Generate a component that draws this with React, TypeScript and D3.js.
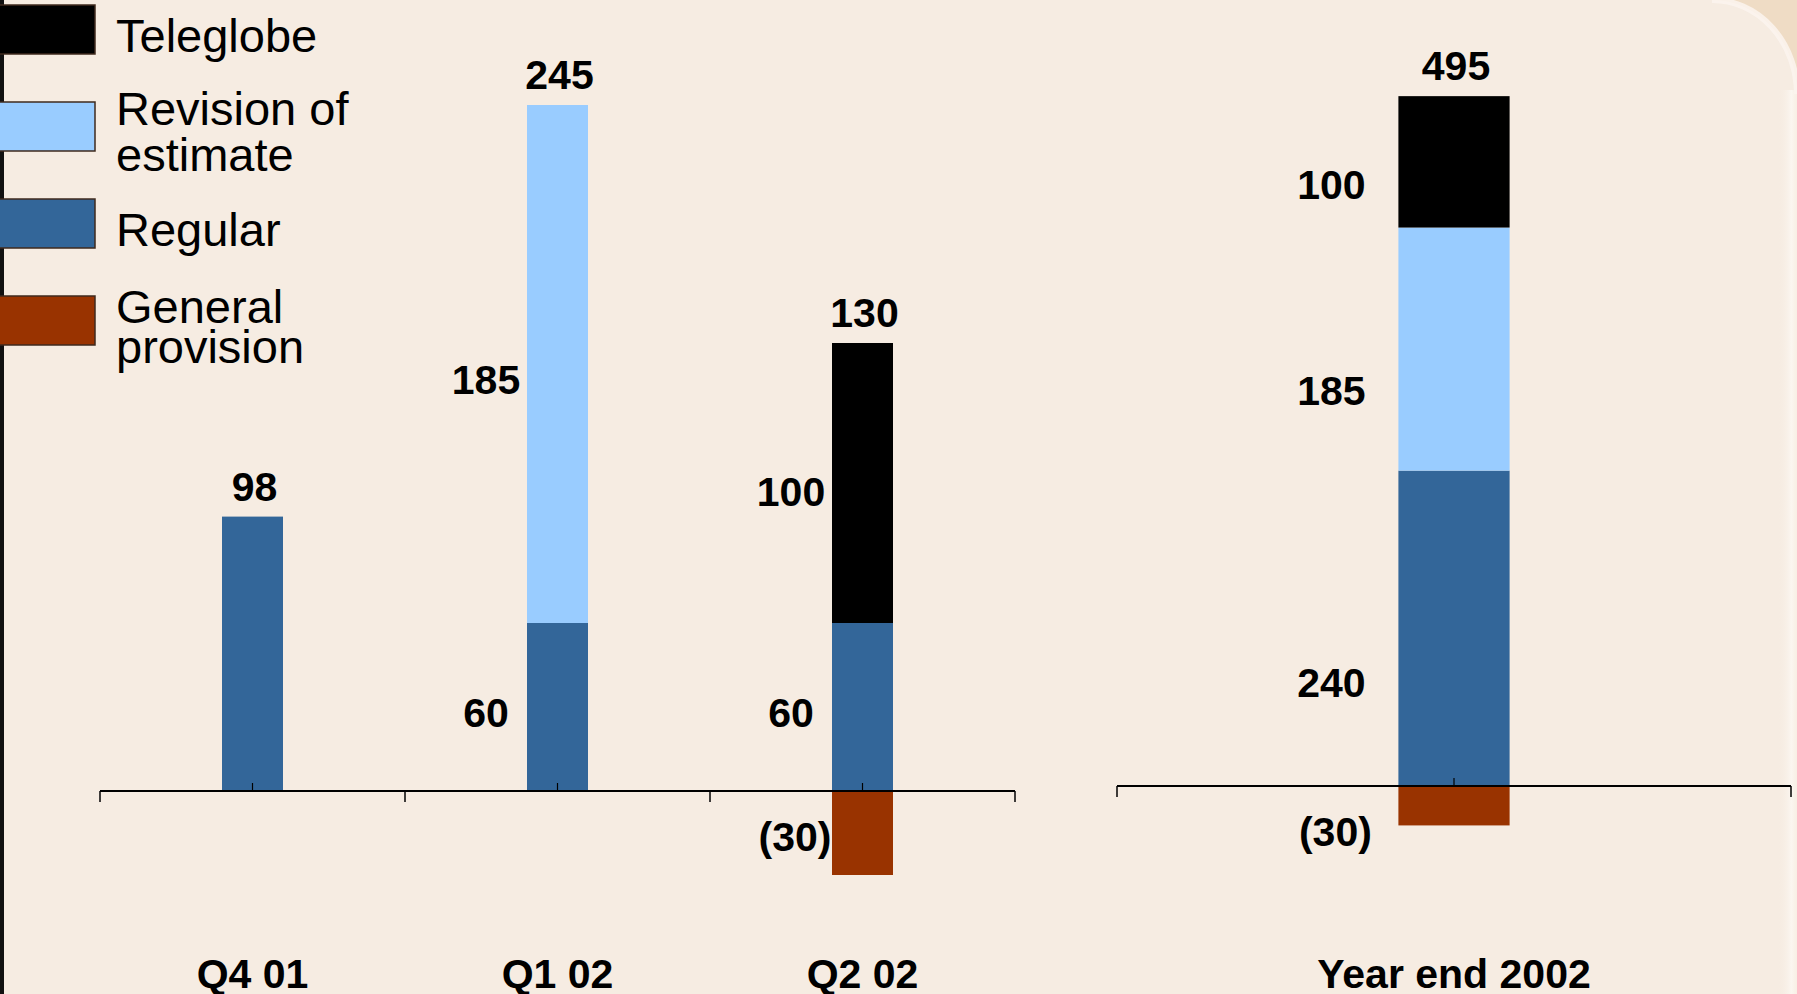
import React from "react";
import * as d3 from "d3";

// quarterly provisions ($M)
const quarters = ["Q4 01", "Q1 02", "Q2 02"];
const qRegular = [98, 60, 60];
const qRevision = [0, 185, 0];
const qTeleglobe = [0, 0, 100];
const qGeneral = [0, 0, -30];
const qTotals = [98, 245, 130];

// full year
const yearCats = ["Year end 2002"];
const yRegular = [240];
const yRevision = [185];
const yTeleglobe = [100];
const yGeneral = [-30];
const yTotals = [495];

const legendNames = ["Teleglobe", "Revision of estimate", "Regular", "General provision"];
const legendLines = [["Teleglobe"], ["Revision of", "estimate"], ["Regular"], ["General", "provision"]];
const colors = ["#000000", "#99ccff", "#336699", "#993300"];

const W = 1797;
const H = 994;
const FONT = "'Liberation Sans', Arial, Helvetica, sans-serif";

const fmt = (v: number) => (v < 0 ? `(${-v})` : `${v}`);

type PanelProps = {
  cats: string[];
  regular: number[];
  revision: number[];
  teleglobe: number[];
  general: number[];
  totals: number[];
  x0: number;
  x1: number;
  base: number;
  pxPerUnit: number;
  barWidthFrac: number;
  labelShift: number; // distance of segment label centre left of bar
  labelFrac: number; // where in the segment the label sits (0 bottom, 1 top)
  boundaryTicks: boolean;
};

function Panel(p: PanelProps) {
  const n = p.cats.length;
  const x = d3
    .scaleBand<string>()
    .domain(p.cats)
    .range([p.x0, p.x1])
    .paddingInner(1 - p.barWidthFrac)
    .paddingOuter((1 - p.barWidthFrac) / 2);
  const maxUp = d3.max(p.cats.map((_, i) => p.regular[i] + p.revision[i] + p.teleglobe[i])) as number;
  const y = d3
    .scaleLinear()
    .domain([0, maxUp])
    .range([p.base, p.base - maxUp * p.pxPerUnit]);

  const step = x.step();
  const bw = x.bandwidth();

  const bars: any[] = [];
  const labels: any[] = [];
  p.cats.forEach((c, i) => {
    const segs = [
      { v: p.regular[i], col: colors[2] },
      { v: p.revision[i], col: colors[1] },
      { v: p.teleglobe[i], col: colors[0] },
    ];
    const neg = { v: p.general[i], col: colors[3] };
    const nonzero = segs.filter((s) => s.v !== 0).length + (neg.v !== 0 ? 1 : 0);
    const bx = x(c) as number;
    let acc = 0;
    segs.forEach((s, k) => {
      if (s.v === 0) return;
      const yTop = y(acc + s.v);
      const yBot = y(acc);
      bars.push(<rect key={`${c}-${k}`} x={bx} y={yTop} width={bw} height={yBot - yTop} fill={s.col} />);
      if (nonzero > 1) {
        labels.push(
          <text
            key={`l-${c}-${k}`}
            x={bx - p.labelShift}
            y={yBot - (yBot - yTop) * p.labelFrac}
            dy="0.36em"
            textAnchor="middle"
          >
            {fmt(s.v)}
          </text>
        );
      }
      acc += s.v;
    });
    if (neg.v !== 0) {
      const yTop = y(0);
      const yBot = y(neg.v);
      bars.push(<rect key={`${c}-neg`} x={bx} y={yTop} width={bw} height={yBot - yTop} fill={neg.col} />);
      labels.push(
        <text key={`l-${c}-neg`} x={bx - p.labelShift + 4} y={p.base + 45} dy="0.36em" textAnchor="middle">
          {fmt(neg.v)}
        </text>
      );
    }
    labels.push(
      <text key={`t-${c}`} x={bx + bw / 2 + 2} y={y(acc) - 16} textAnchor="middle">
        {fmt(p.totals[i])}
      </text>
    );
    labels.push(
      <text key={`c-${c}`} x={bx + bw / 2} y={988} textAnchor="middle">
        {c}
      </text>
    );
  });

  const bounds = p.boundaryTicks ? d3.range(n + 1).map((i) => p.x0 + i * step) : [p.x0, p.x1];

  return (
    <g>
      {bars}
      <line x1={p.x0} x2={p.x1} y1={p.base} y2={p.base} stroke="#000" strokeWidth={2} />
      {bounds.map((bx, i) => (
        <line key={`b${i}`} x1={bx} x2={bx} y1={p.base} y2={p.base + 11} stroke="#000" strokeWidth={1.5} />
      ))}
      {p.cats.map((c) => {
        const cx = (x(c) as number) + bw / 2;
        return <line key={`m-${c}`} x1={cx} x2={cx} y1={p.base} y2={p.base - 8} stroke="#000" strokeWidth={1.2} />;
      })}
      <g fontFamily={FONT} fontWeight="bold" fontSize={41} fill="#000">
        {labels}
      </g>
    </g>
  );
}

function Legend() {
  const top = 5;
  const gap = 97;
  const sw = 96;
  const sh = 49;
  return (
    <g>
      {legendNames.map((name, i) => {
        const y0 = top + i * gap;
        const mid = y0 + sh / 2;
        const lines = legendLines[i];
        const first = lines.length > 1 ? mid - 2 + (i === 3 ? 4 : 0) : mid + 22;
        return (
          <g key={name}>
            <rect x={-1} y={y0} width={sw} height={sh} fill={colors[i]} stroke="#3f2a1e" strokeWidth={1.5} />
            <text x={116} y={first} fontFamily={FONT} fontSize={47} fill="#000">
              {lines.map((l, k) => (
                <tspan key={k} x={116} dy={k === 0 ? 0 : i === 3 ? 40 : 46}>
                  {l}
                </tspan>
              ))}
            </text>
          </g>
        );
      })}
    </g>
  );
}

export default function App() {
  return (
    <svg
      width={W}
      height={H}
      style={{ position: "absolute", left: 0, top: 0, display: "block" }}
      xmlns="http://www.w3.org/2000/svg"
    >
      <defs>
        <linearGradient id="edge" x1="0" x2="1" y1="0" y2="0">
          <stop offset="0" stopColor="#f6ece2" stopOpacity={0} />
          <stop offset="0.7" stopColor="#fbf6f0" stopOpacity={1} />
          <stop offset="1" stopColor="#f8efe4" stopOpacity={1} />
        </linearGradient>
      </defs>
      <rect x={0} y={0} width={W} height={H} fill="#f6ece2" />
      <rect x={1778} y={90} width={19} height={H - 90} fill="url(#edge)" />
      {/* rounded frame corner top right */}
      <path d="M1712,0 L1797,0 L1797,94 A85,94 0 0 0 1712,0 Z" fill="#efdcc5" />
      <path d="M1712,0 A85,94 0 0 1 1797,94" fill="none" stroke="#fbf5ee" strokeWidth={6} opacity={0.85} />
      <rect x={0} y={0} width={4} height={H} fill="#111" />
      <Legend />
      <Panel
        cats={quarters}
        regular={qRegular}
        revision={qRevision}
        teleglobe={qTeleglobe}
        general={qGeneral}
        totals={qTotals}
        x0={100}
        x1={1015}
        base={791}
        pxPerUnit={2.8}
        barWidthFrac={0.2}
        labelShift={41}
        labelFrac={0.47}
        boundaryTicks={true}
      />
      <Panel
        cats={yearCats}
        regular={yRegular}
        revision={yRevision}
        teleglobe={yTeleglobe}
        general={yGeneral}
        totals={yTotals}
        x0={1117}
        x1={1791}
        base={786}
        pxPerUnit={1.314}
        barWidthFrac={0.165}
        labelShift={67}
        labelFrac={0.33}
        boundaryTicks={false}
      />
    </svg>
  );
}
